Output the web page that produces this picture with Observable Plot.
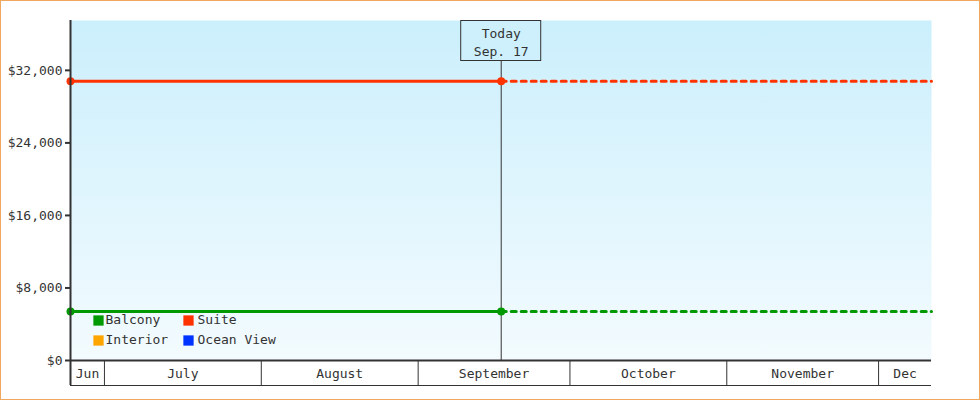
<!DOCTYPE html>
<html><head><meta charset="utf-8">
<script src="https://cdn.jsdelivr.net/npm/d3@7"></script>
<script src="https://cdn.jsdelivr.net/npm/@observablehq/plot@0.6"></script>
<style>
body{margin:0;background:#fff;}
#chart svg{display:block; outline:1px solid #f0a860; outline-offset:-1px;}
</style></head><body><div id="chart"></div>
<script>
const seriesNames = ["Balcony", "Suite", "Interior", "Ocean View"];
const seriesColors = ["#009900", "#ff3300", "#ffa500", "#0033ff"];
const currentPrices = [5400, 30800, null, null];
const periodStart = new Date(Date.UTC(2023, 5, 24, 7));
const todayDate = new Date(Date.UTC(2023, 8, 17, 10));
const periodEnd = new Date(Date.UTC(2023, 11, 11, 11));
const todayLabel = ["Today", "Sep. 17"];
const yTicks = [0, 8000, 16000, 24000, 32000];
const yMax = 37500;
const monthStarts = [6, 7, 8, 9, 10, 11].map(m => new Date(Date.UTC(2023, m, 1)));
const monthLabels = ["Jun", "July", "August", "September", "October", "November", "Dec"];

// derived tables
const bounds = [periodStart, ...monthStarts, periodEnd];
const monthMids = monthLabels.map((_, i) => new Date((+bounds[i] + +bounds[i + 1]) / 2));
const labelByTime = new Map(monthMids.map((m, i) => [+m, monthLabels[i]]));
const pastRows = [], futureRows = [];
seriesNames.forEach((name, i) => {
  if (currentPrices[i] == null) return;
  pastRows.push({name, date: periodStart, price: currentPrices[i]}, {name, date: todayDate, price: currentPrices[i]});
  futureRows.push({name, date: todayDate, price: currentPrices[i]}, {name, date: periodEnd, price: currentPrices[i]});
});

const legendMarks = [];
seriesNames.forEach((name, i) => {
  const col = i % 2, row = Math.floor(i / 2);
  legendMarks.push(Plot.dot([name], {frameAnchor: "bottom-left", dx: 28 + col * 90, dy: -40 + row * 20, symbol: "square", r: 5.8, fill: seriesColors[i], stroke: "none"}));
  legendMarks.push(Plot.text([name], {frameAnchor: "bottom-left", dx: 35 + col * 92, dy: -37 + row * 20, text: d => d, textAnchor: "start"}));
});

const plot = Plot.plot({
  width: 980, height: 400,
  marginLeft: 70, marginRight: 49, marginTop: 20, marginBottom: 40,
  style: {fontSize: "13px", fontFamily: "'DejaVu Sans Mono', monospace", color: "#333", background: "transparent", overflow: "visible"},
  x: {type: "utc", domain: [periodStart, periodEnd], axis: null},
  y: {domain: [0, yMax], axis: null},
  color: {domain: seriesNames, range: seriesColors},
  marks: [
    Plot.frame({fill: "url(#bgGrad)", stroke: "none"}),
    Plot.ruleX([todayDate], {stroke: "#333", strokeWidth: 1}),
    Plot.line(pastRows, {x: "date", y: "price", z: "name", stroke: "name", strokeWidth: 3}),
    Plot.line(futureRows, {x: "date", y: "price", z: "name", stroke: "name", strokeWidth: 3, strokeDasharray: "5,5"}),
    Plot.dot(pastRows, {x: "date", y: "price", fill: "name", r: 4}),
    Plot.axisY(yTicks, {tickSize: 5, tickPadding: 3, strokeWidth: 2, tickFormat: d3.format("$,"), label: null}),
    Plot.axisX(monthStarts, {tickSize: 25, tickFormat: () => "", strokeWidth: 1, label: null}),
    Plot.axisX(monthMids, {tickSize: 0, tickPadding: 8, tickFormat: d => labelByTime.get(+d), label: null}),
    Plot.ruleY([0], {stroke: "#333", strokeWidth: 2}),
    Plot.ruleY([0], {stroke: "#333", strokeWidth: 1, dy: 25}),
    Plot.ruleX([periodStart], {stroke: "#333", strokeWidth: 2, insetBottom: -25}),
    Plot.text([todayLabel.join("\n")], {x: () => todayDate, text: d => d, frameAnchor: "top", lineAnchor: "top", dy: 5, lineHeight: 1.38}),
    ...legendMarks
  ]
});

document.getElementById("chart").appendChild(plot);
const svg = d3.select(plot);
const grad = svg.insert("defs", ":first-child").append("linearGradient")
  .attr("id", "bgGrad").attr("x1", 0).attr("y1", 0).attr("x2", 0).attr("y2", 1);
grad.append("stop").attr("offset", "0%").attr("stop-color", "#cbeffc");
grad.append("stop").attr("offset", "100%").attr("stop-color", "#f3fbfe");

const tx = plot.scale("x").apply(todayDate);
const labelG = Array.from(plot.querySelectorAll('g[aria-label="text"]')).find(g => g.textContent.includes(todayLabel[0]));
if (labelG) {
  const box = document.createElementNS("http://www.w3.org/2000/svg", "rect");
  box.setAttribute("x", tx - 40);
  box.setAttribute("y", 20.5);
  box.setAttribute("width", 80);
  box.setAttribute("height", 40);
  box.setAttribute("fill", "#cdf0fc");
  box.setAttribute("stroke", "#333");
  labelG.parentNode.insertBefore(box, labelG);
}
</script></body></html>
